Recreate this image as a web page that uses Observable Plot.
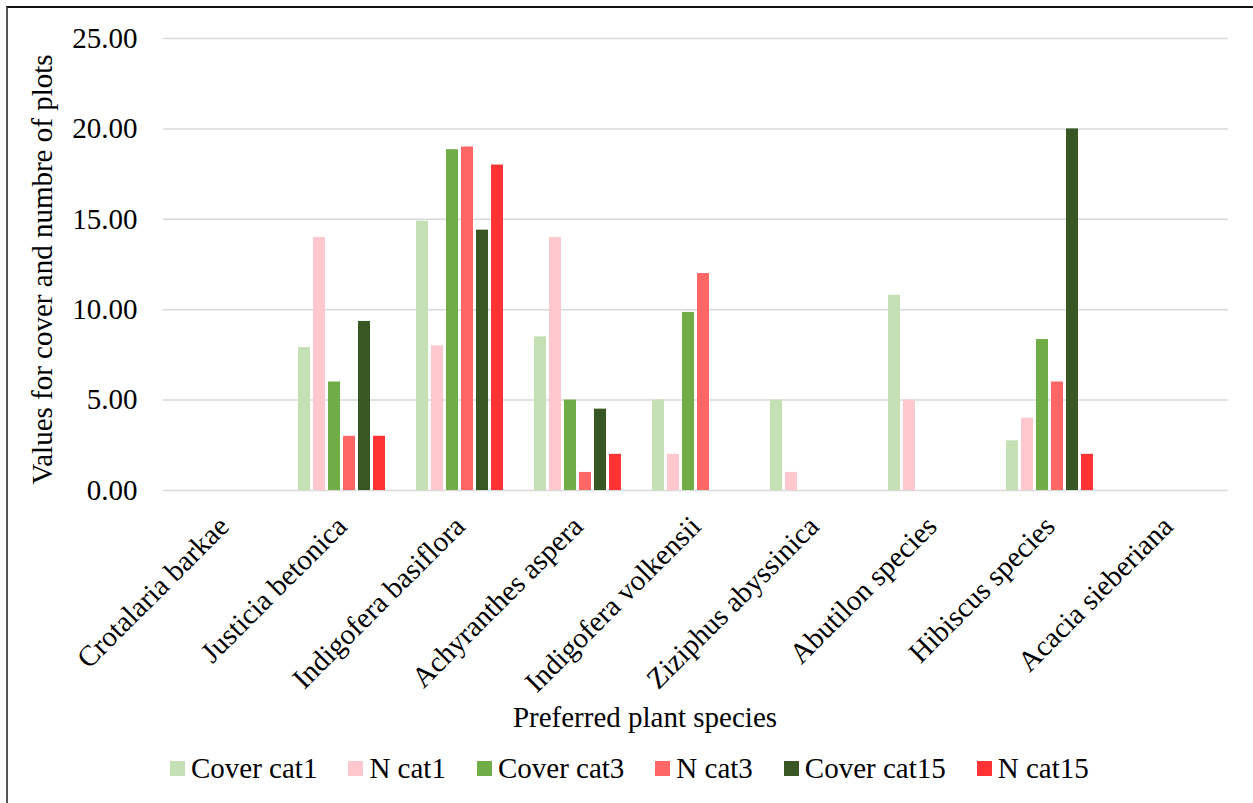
<!DOCTYPE html>
<html>
<head>
<meta charset="utf-8">
<script src="https://cdn.jsdelivr.net/npm/d3@7"></script>
<script src="https://cdn.jsdelivr.net/npm/@observablehq/plot@0.6"></script>
<style>
  html, body { margin: 0; padding: 0; background: #fff; }
  body { width: 1253px; height: 803px; position: relative; overflow: hidden;
         font-family: "Liberation Serif", "Times New Roman", serif; color: #000; }
  #frame { position: absolute; left: 6px; top: 6px; width: 1300px; height: 850px;
           border-left: 2px solid #555; border-top: 2px solid #111; box-sizing: border-box; }
  #grid, #bars { position: absolute; left: 0; top: 0; }
  #xtitle { position: absolute; left: 0; width: 1290px; top: 699px; text-align: center;
            font-size: 29px; line-height: 36px; }
  #legend { position: absolute; left: 170px; top: 752px; height: 32px; display: flex;
            align-items: center; font-size: 29px; }
  #legend .item { display: flex; align-items: center; margin-right: 31px; }
  #legend .sw { width: 15px; height: 15px; margin-right: 6px; }
</style>
</head>
<body>
<div id="frame"></div>
<div id="grid"></div>
<div id="bars"></div>
<div id="xtitle"></div>
<div id="legend"></div>
<script>
// Plant species on the x axis
const categories = [
  "Crotalaria barkae", "Justicia betonica", "Indigofera basiflora",
  "Achyranthes aspera", "Indigofera volkensii", "Ziziphus abyssinica",
  "Abutilon species", "Hibiscus species", "Acacia sieberiana"
];

// Series names (legend order)
const series = ["Cover cat1", "N cat1", "Cover cat3", "N cat3", "Cover cat15", "N cat15"];

// Values per species, one array per series
const coverCat1  = [0, 7.9, 14.9, 8.5, 5.0, 5.0, 10.8, 2.75, 0];
const nCat1      = [0, 14, 8, 14, 2, 1, 5, 4, 0];
const coverCat3  = [0, 6.0, 18.85, 5.0, 9.85, 0, 0, 8.35, 0];
const nCat3      = [0, 3, 19, 1, 12, 0, 0, 6, 0];
const coverCat15 = [0, 9.35, 14.4, 4.5, 0, 0, 0, 20.0, 0];
const nCat15     = [0, 3, 18, 2, 0, 0, 0, 2, 0];

// Y axis ticks
const yTicks = [0, 5, 10, 15, 20, 25];

const colors = ["#C5E0B4", "#FFC7CE", "#70AD47", "#FF6666", "#385723", "#FF3333"];

const yTitle = "Values for cover and numbre of plots";
const xTitle = "Preferred plant species";

const seriesValues = [coverCat1, nCat1, coverCat3, nCat3, coverCat15, nCat15];
const rows = categories.flatMap((category, i) =>
  series.map((s, j) => ({category, series: s, value: seriesValues[j][i]}))
);

// Shared frame geometry for the two layers
const layout = {
  width: 1253,
  height: 700,
  marginLeft: 163,
  marginRight: 25,
  marginTop: 38,
  marginBottom: 210,
  style: {fontFamily: "'Liberation Serif', 'Times New Roman', serif", fontSize: "29px",
          color: "#000", background: "transparent", overflow: "visible"}
};
const yScale = {domain: [0, 25], axis: null};

// Back layer: gridlines, y tick labels and y title across the full frame
const grid = Plot.plot({
  ...layout,
  y: yScale,
  marks: [
    Plot.ruleY(yTicks, {y: d => d, stroke: "#D9D9D9", strokeWidth: 1.5}),
    Plot.text(yTicks, {y: d => d, text: d => d3.format(".2f")(d), frameAnchor: "left",
      textAnchor: "end", dx: -26, fontSize: 29}),
    Plot.text([yTitle], {text: d => d, frameAnchor: "left", textAnchor: "middle",
      rotate: -90, dx: -121, dy: 5, fontSize: 29})
  ]
});
document.getElementById("grid").appendChild(grid);

// Front layer: grouped bars, one facet per species
const bars = Plot.plot({
  ...layout,
  fx: {domain: categories, paddingInner: 0.233, paddingOuter: 0.1165, label: null},
  x: {domain: series, paddingInner: 0.21, paddingOuter: 0, axis: null},
  y: yScale,
  color: {domain: series, range: colors},
  marks: [
    Plot.barY(rows, {fx: "category", x: "series", y: "value", fill: "series"}),
    Plot.axisFx({anchor: "bottom", tickRotate: -45, tickSize: 0, tickPadding: 31,
      textAnchor: "end", lineAnchor: "middle", fontSize: 29, label: null})
  ]
});
document.getElementById("bars").appendChild(bars);

document.getElementById("xtitle").textContent = xTitle;

const legend = d3.select("#legend");
series.forEach((s, i) => {
  const item = legend.append("div").attr("class", "item");
  item.append("div").attr("class", "sw").style("background", colors[i]);
  item.append("span").text(s);
});
</script>
</body>
</html>
